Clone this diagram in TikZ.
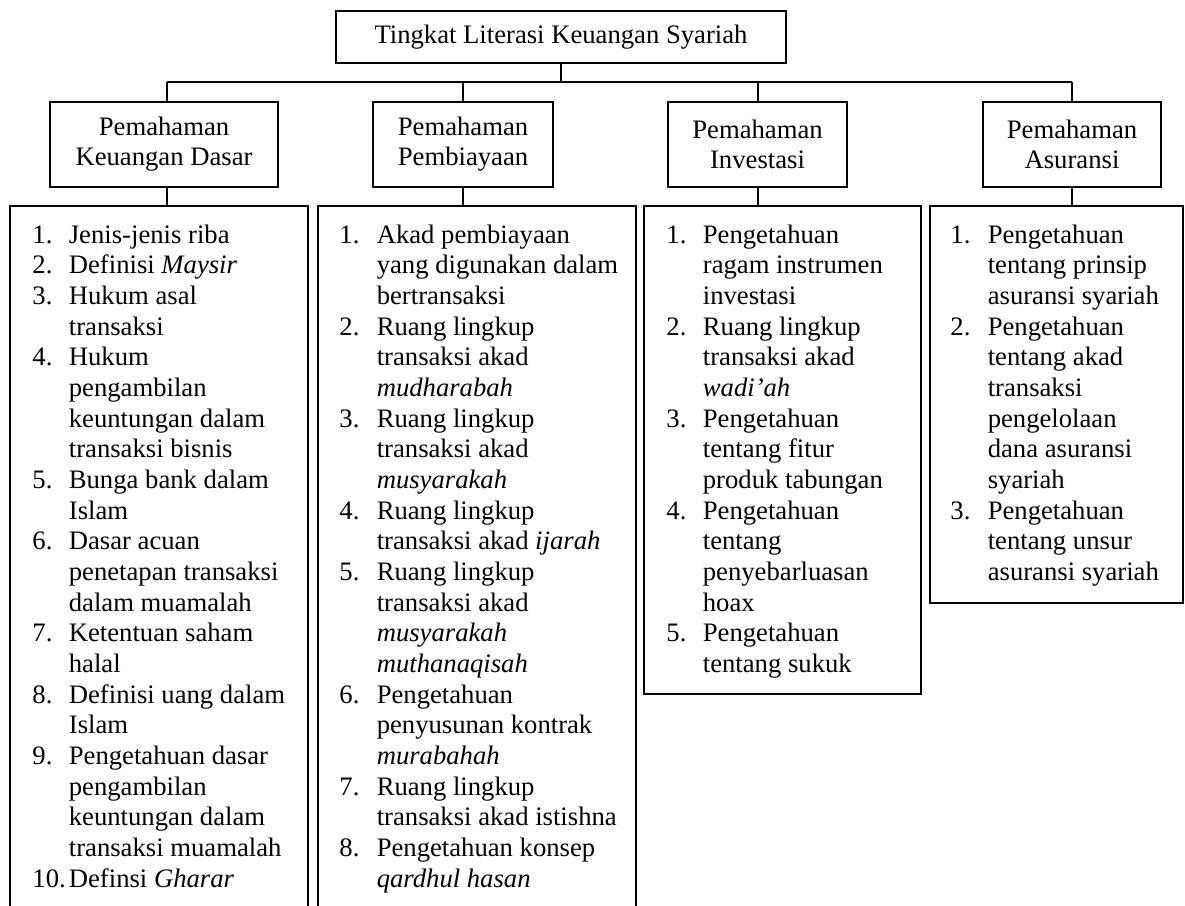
\documentclass[tikz,border=0pt]{standalone}
\usepackage{fontspec}
\setmainfont{Liberation Serif}
\usetikzlibrary{fit}
\begin{document}
\begin{tikzpicture}[x=0.45pt,y=-0.45pt,
  box/.style={draw, line width=0.9pt, inner sep=0pt},
  hbox/.style={draw, line width=0.9pt, inner sep=0pt, minimum height=38.25pt,
    font=\fontsize{12}{13.5}\selectfont, align=center},
  conn/.style={line width=0.9pt},
  lst/.style={font=\fontsize{12}{13.8}\selectfont, inner sep=0pt, anchor=base west}]
\useasboundingbox (0,0) rectangle (1185,905);
\clip (0,0) rectangle (1185,905);

% top
\node[hbox, minimum width=202.5pt, minimum height=23.4pt] (top) at (561,37) {Tingkat Literasi Keuangan Syariah};

% second level
\node[hbox, minimum width=102.6pt] (dasar) at (164,144.5) {Pemahaman\\Keuangan Dasar};
\node[hbox, minimum width=81pt] (biaya) at (463,144.5) {Pemahaman\\Pembiayaan};
\node[hbox, minimum width=80.55pt] (invest) at (757.5,144.5) {Pemahaman\\Investasi};
\node[hbox, minimum width=80.1pt] (asur) at (1072,144.5) {Pemahaman\\Asuransi};

% list boxes
\node[box, fit={(10,206)(308,940)}] (l1) {};
\node[box, fit={(318,206)(636,940)}] (l2) {};
\node[box, fit={(644,206)(921,694)}] (l3) {};
\node[box, fit={(930,206)(1183,603)}] (l4) {};

% bus
\coordinate (b1) at (167,82);
\coordinate (b2) at (463,82);
\coordinate (b3) at (758,82);
\coordinate (b4) at (1072,82);
\draw[conn] (b1) -- (b4);
\draw[conn] (top.south) -- (top.south |- b1);
\draw[conn] (b1) -- (b1 |- dasar.north);
\draw[conn] (b2) -- (b2 |- biaya.north);
\draw[conn] (b3) -- (b3 |- invest.north);
\draw[conn] (b4) -- (b4 |- asur.north);
\draw[conn] (b1 |- dasar.south) -- (b1 |- l1.north);
\draw[conn] (b2 |- biaya.south) -- (b2 |- l2.north);
\draw[conn] (b3 |- invest.south) -- (b3 |- l3.north);
\draw[conn] (b4 |- asur.south) -- (b4 |- l4.north);

% list texts
\node[lst] (t1) at (32,243) {\begin{tabular}[t]{@{}p{16.4pt}@{}l@{}}
1. & Jenis-jenis riba\\
2. & Definisi \textit{Maysir}\\
3. & Hukum asal\\
   & transaksi\\
4. & Hukum\\
   & pengambilan\\
   & keuntungan dalam\\
   & transaksi bisnis\\
5. & Bunga bank dalam\\
   & Islam\\
6. & Dasar acuan\\
   & penetapan transaksi\\
   & dalam muamalah\\
7. & Ketentuan saham\\
   & halal\\
8. & Definisi uang dalam\\
   & Islam\\
9. & Pengetahuan dasar\\
   & pengambilan\\
   & keuntungan dalam\\
   & transaksi muamalah\\
10.& Definsi \textit{Gharar}
\end{tabular}};

\node[lst] (t2) at (339,243) {\begin{tabular}[t]{@{}p{16.8pt}@{}l@{}}
1. & Akad pembiayaan\\
   & yang digunakan dalam\\
   & bertransaksi\\
2. & Ruang lingkup\\
   & transaksi akad\\
   & \textit{mudharabah}\\
3. & Ruang lingkup\\
   & transaksi akad\\
   & \textit{musyarakah}\\
4. & Ruang lingkup\\
   & transaksi akad \textit{ijarah}\\
5. & Ruang lingkup\\
   & transaksi akad\\
   & \textit{musyarakah}\\
   & \textit{muthanaqisah}\\
6. & Pengetahuan\\
   & penyusunan kontrak\\
   & \textit{murabahah}\\
7. & Ruang lingkup\\
   & transaksi akad istishna\\
8. & Pengetahuan konsep\\
   & \textit{qardhul hasan}
\end{tabular}};

\node[lst] (t3) at (666,243) {\begin{tabular}[t]{@{}p{16.4pt}@{}l@{}}
1. & Pengetahuan\\
   & ragam instrumen\\
   & investasi\\
2. & Ruang lingkup\\
   & transaksi akad\\
   & \textit{wadi’ah}\\
3. & Pengetahuan\\
   & tentang fitur\\
   & produk tabungan\\
4. & Pengetahuan\\
   & tentang\\
   & penyebarluasan\\
   & hoax\\
5. & Pengetahuan\\
   & tentang sukuk
\end{tabular}};

\node[lst] (t4) at (950,243) {\begin{tabular}[t]{@{}p{16.8pt}@{}l@{}}
1. & Pengetahuan\\
   & tentang prinsip\\
   & asuransi syariah\\
2. & Pengetahuan\\
   & tentang akad\\
   & transaksi\\
   & pengelolaan\\
   & dana asuransi\\
   & syariah\\
3. & Pengetahuan\\
   & tentang unsur\\
   & asuransi syariah
\end{tabular}};
\end{tikzpicture}
\end{document}
